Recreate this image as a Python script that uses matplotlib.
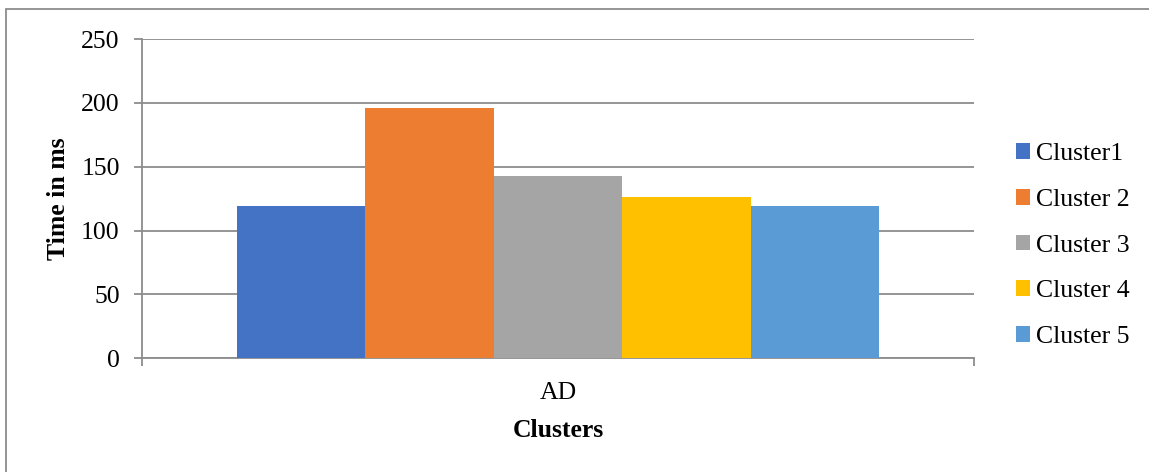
import matplotlib.pyplot as plt
from matplotlib.patches import Rectangle

clusters = ['Cluster1', 'Cluster 2', 'Cluster 3', 'Cluster 4', 'Cluster 5']
times = [119, 196, 143, 126, 119]
colors = ['#4472C4', '#ED7D31', '#A5A5A5', '#FFC000', '#5B9BD5']
category = 'AD'

plt.rcParams['font.family'] = ['Liberation Serif', 'DejaVu Serif']
W, H = 1149, 472
fig = plt.figure(figsize=(W / 100, H / 100), dpi=100)
ax = fig.add_axes([142 / W, (H - 358.3) / H, (974 - 142) / W, (358.3 - 39) / H])

grid_c = '#8c8c8c'
w = 0.1545  # one bar as a fraction of the category slot
for i, (name, t, c) in enumerate(zip(clusters, times, colors)):
    ax.bar(0.5 + (i - 2) * w, t, width=w, color=c, label=name, zorder=3)

ax.set_xlim(0, 1)
ax.set_ylim(0, 250)
ax.set_yticks(range(0, 251, 50))
ax.yaxis.grid(True, color=grid_c, lw=1.3, zorder=0)
ax.set_xticks([0.5])
ax.set_xticklabels([category])
ax.set_xticks([0, 1], minor=True)
ax.tick_params(axis='x', which='major', length=0, pad=17, labelsize=18.5)
ax.tick_params(axis='x', which='minor', length=6, color=grid_c, width=1.3)
ax.tick_params(axis='y', length=6, color=grid_c, width=1.3, pad=10, labelsize=18.5)

for s in ['top', 'right']:
    ax.spines[s].set_visible(False)
for s in ['left', 'bottom']:
    ax.spines[s].set_color(grid_c)
    ax.spines[s].set_linewidth(1.3)

ax.set_xlabel('Clusters', fontsize=18.5, fontweight='bold', labelpad=11)
ax.set_ylabel('Time in ms', fontsize=18.5, fontweight='bold', labelpad=8)

ax.legend(loc='center left', bbox_to_anchor=(1.038, 0.353), frameon=False,
          fontsize=18.5, handlelength=0.55, handleheight=0.55,
          handletextpad=0.25, labelspacing=0.92, borderaxespad=0)

# outer chart frame
fig.add_artist(Rectangle((6 / W, -0.1), 1.2, (H - 9) / H + 0.1,
                         transform=fig.transFigure, fill=False,
                         edgecolor='#8c8c8c', lw=1.3))

fig.savefig('out.png', dpi=100)
